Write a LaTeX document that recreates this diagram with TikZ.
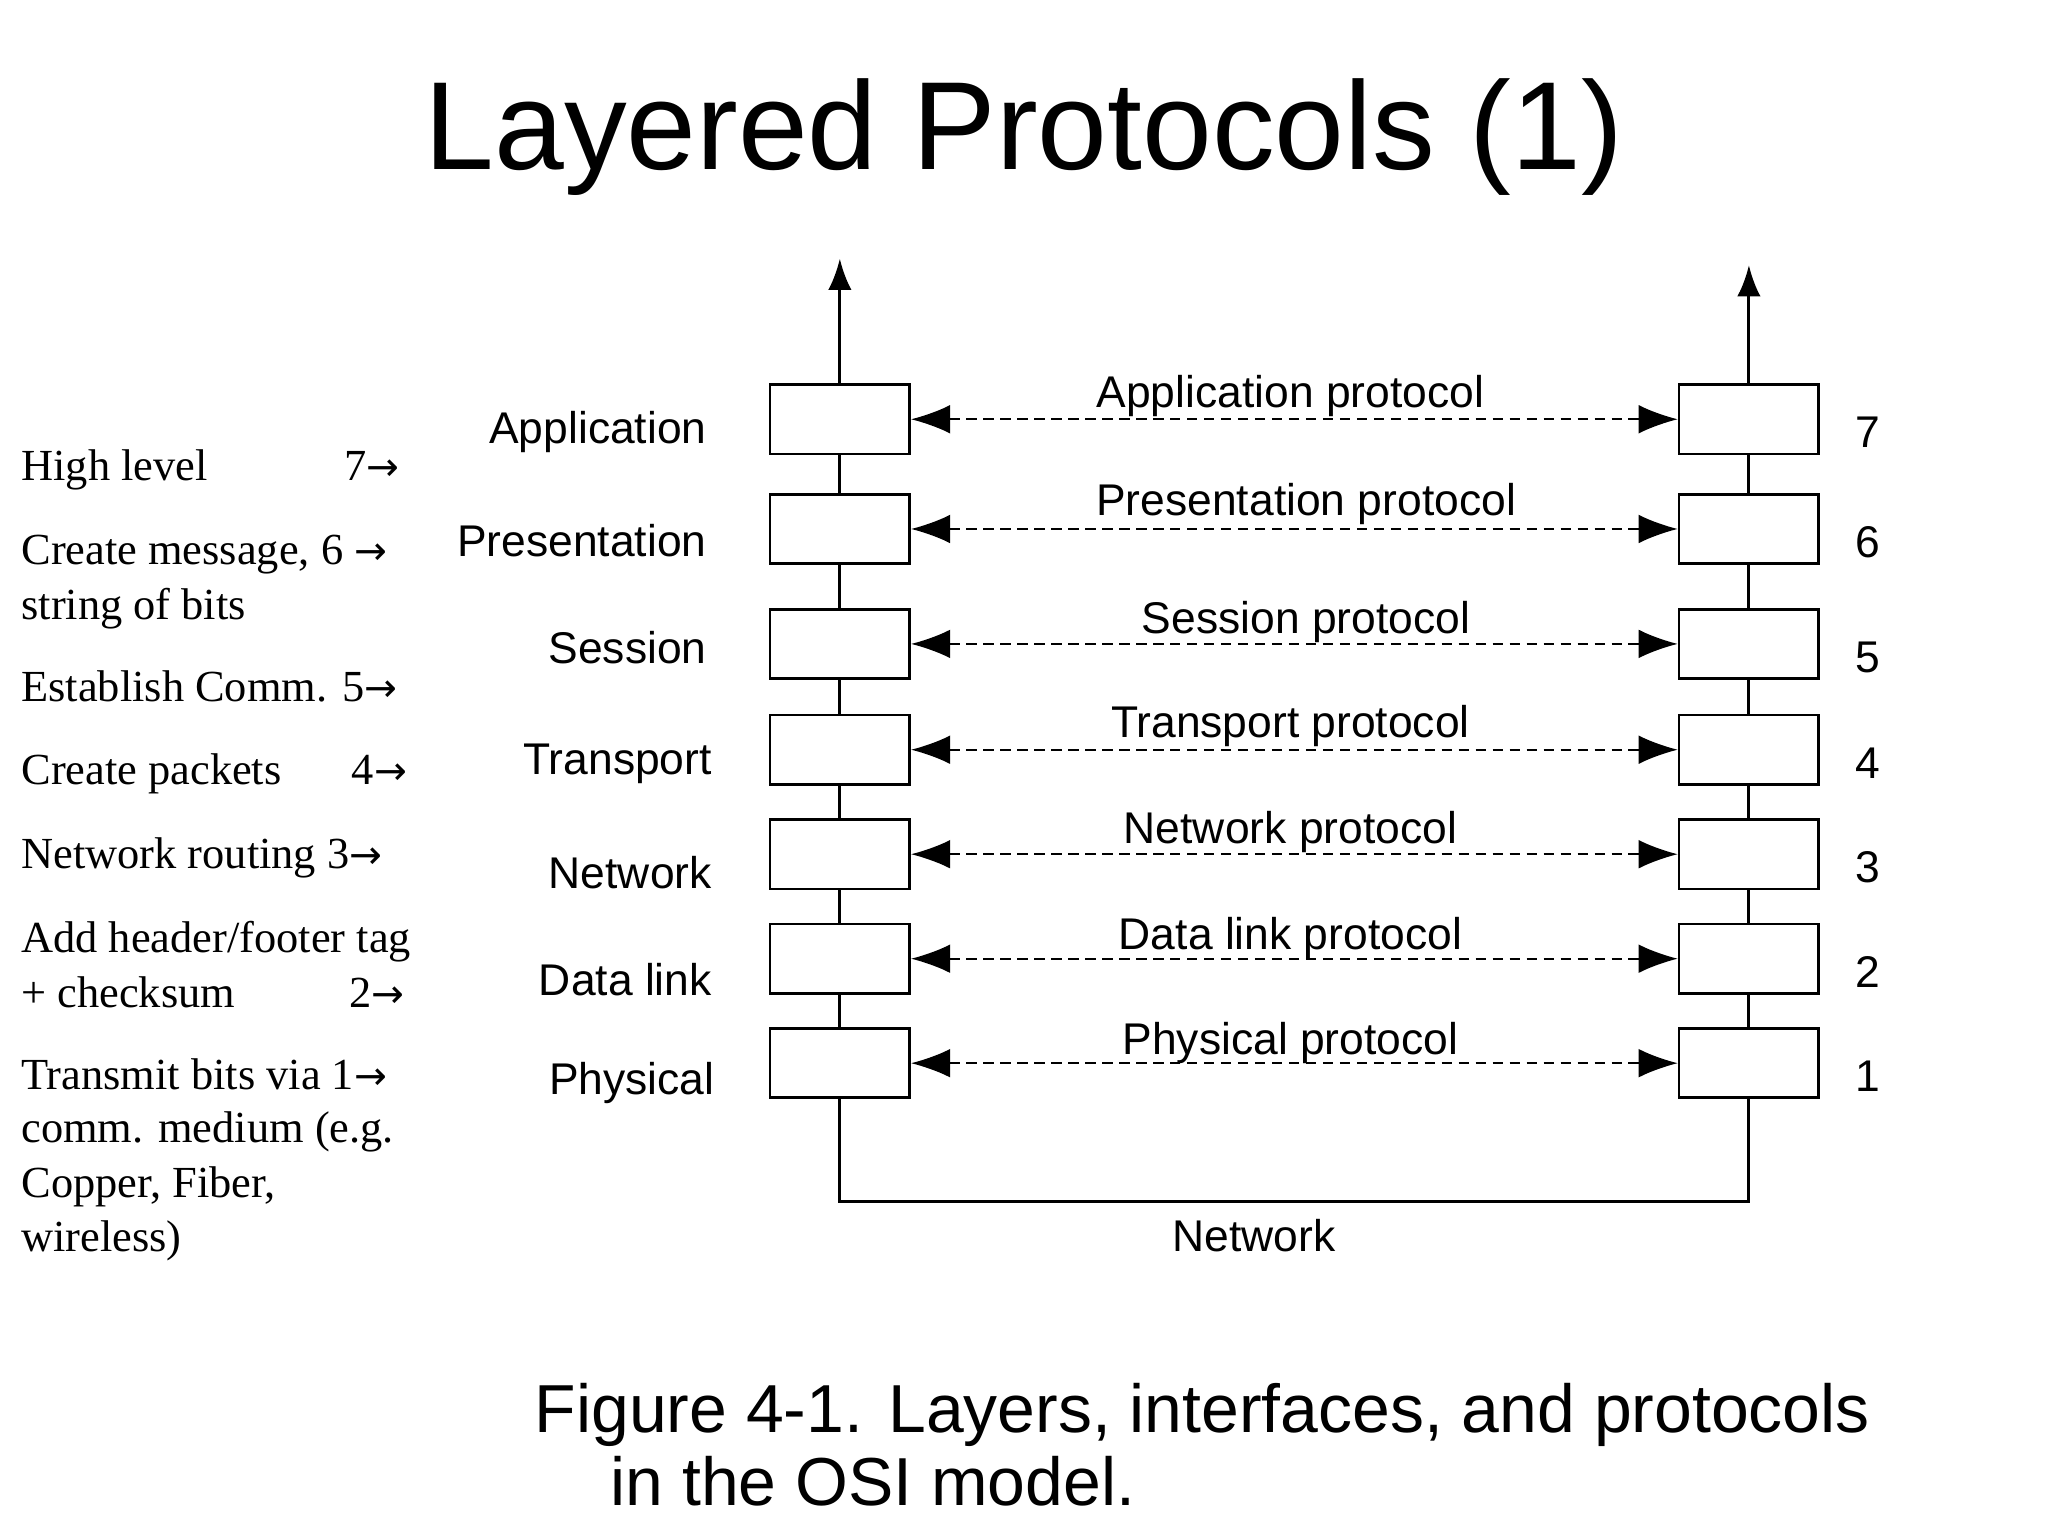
\documentclass[tikz,border=0pt]{standalone}
\usepackage{fontspec}
\setmainfont{Liberation Serif}
\newfontfamily\hel{Liberation Sans}
\newfontfamily\djv{DejaVu Sans}
\newcommand{\ar}{{\djv\fontsize{15}{18}\selectfont →}}
\usetikzlibrary{arrows.meta}
\begin{document}
\begin{tikzpicture}[x=0.5pt,y=-0.5pt,
 box/.style={draw,line width=1pt,minimum width=53.5pt,minimum height=26.5pt,inner sep=0pt},
 lay/.style={font=\hel\fontsize{17}{20}\selectfont,anchor=east},
 num/.style={font=\hel\fontsize{17}{20}\selectfont},
 prot/.style={font=\hel\fontsize{17}{20}\selectfont,anchor=base},
 lt/.style={font=\fontsize{17}{20}\selectfont,anchor=base west,inner sep=0pt},
 la/.style={font=\fontsize{17}{20}\selectfont,anchor=base east,inner sep=0pt},
 conn/.style={line width=1.2pt},
 pr/.style={dash pattern=on 4pt off 2.5pt,line width=0.7pt,{Latex[length=15pt,width=11pt]}-{Latex[length=15pt,width=11pt]}}]
\useasboundingbox (0,0) rectangle (1568,1176);
\node[font=\hel\fontsize{48}{56}\selectfont] (title) at (784,105) {Layered Protocols (1)};
% stacks
\foreach \i/\y in {7/321,6/405,5/493,4/574,3/654,2/734,1/814}{
  \node[box] (L\i) at (643,\y) {};
  \node[box] (R\i) at (1339,\y) {};
  \node[num] (n\i) at (1430,\y+10) {\i};
}
\coordinate (Ltop) at (643,198);
\coordinate (Rtop) at (1339,203);
\coordinate (Lb) at (643,920);
\coordinate (Rb) at (1339,920);
\draw[conn,-{Latex[length=12pt,width=9pt]}] (L7.north) -- (Ltop);
\draw[conn,-{Latex[length=12pt,width=9pt]}] (R7.north) -- (Rtop);
\foreach \a/\b in {7/6,6/5,5/4,4/3,3/2,2/1}{
  \draw[conn] (L\a.south) -- (L\b.north);
  \draw[conn] (R\a.south) -- (R\b.north);
}
\draw[conn] (L1.south) -- (Lb) -- (Rb) -- (R1.south);
\node[font=\hel\fontsize{17}{20}\selectfont] (net) at (960,946) {Network};
% protocols
\foreach \i/\t/\x/\y in {7/Application protocol/988/312,6/Presentation protocol/1000/395,5/Session protocol/1000/485,4/Transport protocol/988/565,3/Network protocol/988/646,2/Data link protocol/988/727,1/Physical protocol/988/807}{
  \draw[pr] (L\i.east) -- (R\i.east -| R\i.west);
  \node[prot] (p\i) at (\x,\y) {\t};
}
% layer names
\node[lay] (a7) at (548,331) {Application};
\node[lay] (a6) at (548,414) {Presentation};
\node[lay] (a5) at (548,496) {Session};
\node[lay] (a4) at (552,585) {Transport};
\node[lay] (a3) at (552,668) {Network};
\node[lay] (a2) at (552,750) {Data link};
\node[lay] (a1) at (554,829) {Physical};
% left notes
\node[lt] (t1) at (16,368) {High level};
\node[la] (k7) at (306,368) {7\ar};
\node[lt] (t2) at (16,432) {Create message, 6 \ar};
\node[lt] (t2b) at (16,474) {string of bits};
\node[lt] (t3) at (16,537) {Establish Comm. 5\ar};
\node[lt] (t4) at (16,601) {Create packets};
\node[la] (k4) at (312,601) {4\ar};
\node[lt] (t5) at (16,665) {Network routing  3\ar};
\node[lt] (t6) at (16,729) {Add header/footer tag};
\node[lt] (t6b) at (16,771) {+ checksum};
\node[la] (k2) at (310,771) {2\ar};
\node[lt] (t7) at (16,834) {Transmit bits via 1\ar};
\node[lt] (t7b) at (16,875) {comm. medium (e.g.};
\node[lt] (t7c) at (16,917) {Copper, Fiber,};
\node[lt] (t7d) at (16,958) {wireless)};
% caption
\node[font=\hel\fontsize{26}{30}\selectfont,anchor=base west,inner sep=0pt] (c1) at (409,1097) {Figure 4-1. Layers, interfaces, and protocols};
\node[font=\hel\fontsize{26}{30}\selectfont,anchor=base west,inner sep=0pt] (c2) at (467,1153) {in the OSI model.};
\end{tikzpicture}
\end{document}
